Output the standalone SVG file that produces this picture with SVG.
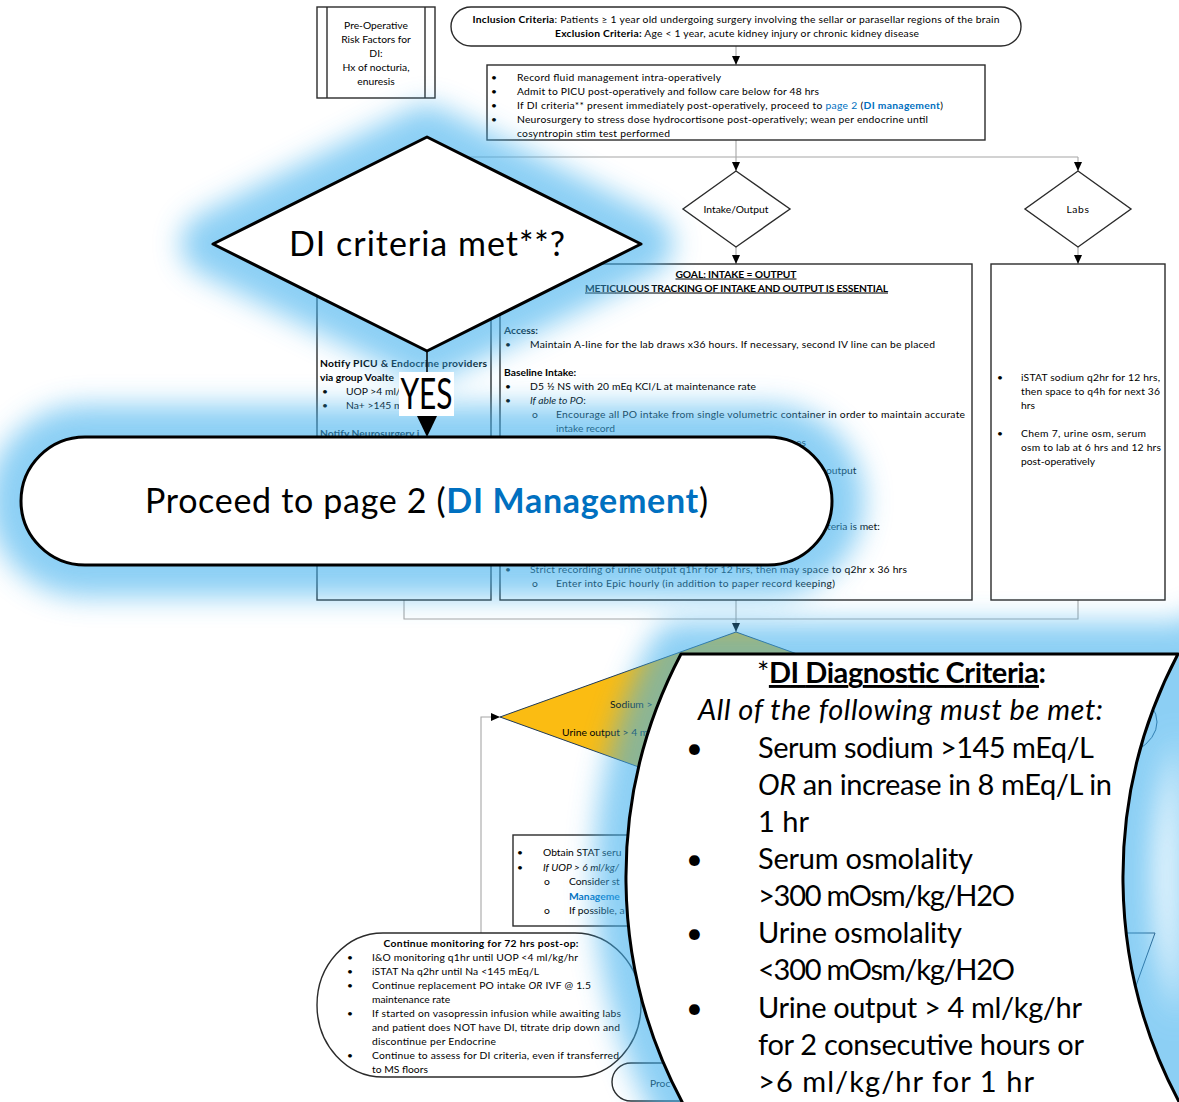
<svg xmlns="http://www.w3.org/2000/svg" xmlns:xlink="http://www.w3.org/1999/xlink" width="1179" height="1102" viewBox="0 0 1179 1102">
  <style>
    .t { font-family: Lato, "Liberation Sans", sans-serif; font-size: 10.3px; fill: #000; }
    .c { text-anchor: middle; }
    .b { font-weight: bold; }
    .i { font-style: italic; }
    .u { text-decoration: underline; }
    .lnk { fill: #0070c0; }
    .box { fill: #fff; stroke: #2b2b2b; stroke-width: 1.4; }
    .thin { fill: none; stroke: #1f3a5a; stroke-width: 1; }
    .con { fill: none; stroke: #a6a6a6; stroke-width: 1.1; }
    .glow { fill: #3fb0ee; stroke: #3fb0ee; stroke-width: 64; stroke-linejoin: round; }
    .over { fill: #fff; stroke: #000; stroke-width: 3; stroke-linejoin: round; }
    .big { font-size: 34px; }
    .yes { font-size: 42px; }
    .crit { font-size: 29px; }
  </style>
  <defs>
    <marker id="arr" markerUnits="userSpaceOnUse" markerWidth="9" markerHeight="8" refX="9" refY="4" orient="auto" viewBox="0 0 9 8">
      <path d="M0,0 L9,4 L0,8 Z" fill="#000"/>
    </marker>
    <filter id="soft" filterUnits="userSpaceOnUse" x="-100" y="-100" width="1400" height="1320">
      <feGaussianBlur stdDeviation="14"/>
    </filter>
    <!-- overlay outlines, shared by the halo and the white shapes -->
    <path id="decision" d="M213,244 L427,137 L641,244 L427,351 Z"/>
    <rect id="pageTwo" x="21" y="437" width="811" height="128" rx="64" ry="64"/>
    <path id="criteria" d="M681,654 H1178 A479,479 0 0 0 1183.5,1110 H686.5 A479,479 0 0 1 681,654 Z"/>
  </defs>

  <rect width="1179" height="1102" fill="#fff"/>

  <!-- ===== connectors ===== -->
  <g id="connectors">
    <line class="con" x1="736" y1="46" x2="736" y2="65" marker-end="url(#arr)"/>
    <polyline class="con" points="736,140 736,157"/>
    <polyline class="con" points="404,157 1078,157"/>
    <line class="con" x1="736" y1="157" x2="736" y2="171" marker-end="url(#arr)"/>
    <line class="con" x1="1078" y1="157" x2="1078" y2="171" marker-end="url(#arr)"/>
    <line class="con" x1="404" y1="157" x2="404" y2="264" marker-end="url(#arr)"/>
    <line class="con" x1="736" y1="247" x2="736" y2="264" marker-end="url(#arr)"/>
    <line class="con" x1="1078" y1="247" x2="1078" y2="264" marker-end="url(#arr)"/>
    <polyline class="con" points="404,600 404,619 1078,619 1078,600"/>
    <line class="con" x1="736" y1="600" x2="736" y2="632" marker-end="url(#arr)"/>
    <polyline class="con" points="481,933 481,717 500,717" marker-end="url(#arr)"/>
  </g>

  <!-- ===== flowchart nodes ===== -->
  <g id="preop-risk">
    <rect class="box" x="317" y="7" width="118" height="91"/>
    <line class="box" x1="327" y1="7" x2="327" y2="98"/>
    <line class="box" x1="425" y1="7" x2="425" y2="98"/>
    <text class="t c" x="376" y="28.5">Pre-Operative</text>
    <text class="t c" x="376" y="42.5">Risk Factors for</text>
    <text class="t c" x="376" y="56.5">DI:</text>
    <text class="t c" x="376" y="70.5">Hx of nocturia,</text>
    <text class="t c" x="376" y="84.5">enuresis</text>
  </g>

  <g id="inclusion">
    <rect class="box" x="451" y="7" width="570" height="39" rx="20" ry="20"/>
    <text class="t c" x="736" y="23" textLength="527" lengthAdjust="spacing"><tspan class="b">Inclusion Criteria</tspan>: Patients ≥ 1 year old undergoing surgery involving the sellar or parasellar regions of the brain</text>
    <text class="t c" x="737" y="37" textLength="364" lengthAdjust="spacing"><tspan class="b">Exclusion Criteria:</tspan> Age &lt; 1 year, acute kidney injury or chronic kidney disease</text>
  </g>

  <g id="postop-orders">
    <rect class="box" x="487" y="65" width="498" height="75"/>
    <text class="t" x="491" y="80.5">•</text>
    <text class="t" x="517" y="80.5" textLength="204" lengthAdjust="spacing">Record fluid management intra-operatively</text>
    <text class="t" x="491" y="94.5">•</text>
    <text class="t" x="517" y="94.5" textLength="302" lengthAdjust="spacing">Admit to PICU post-operatively and follow care below for 48 hrs</text>
    <text class="t" x="491" y="108.5">•</text>
    <text class="t" x="517" y="108.5" textLength="426" lengthAdjust="spacing">If DI criteria** present immediately post-operatively, proceed to <tspan class="lnk">page 2</tspan> (<tspan class="lnk b">DI management</tspan>)</text>
    <text class="t" x="491" y="122.5">•</text>
    <text class="t" x="517" y="122.5" textLength="411" lengthAdjust="spacing">Neurosurgery to stress dose hydrocortisone post-operatively; wean per endocrine until</text>
    <text class="t" x="517" y="136.5" textLength="153" lengthAdjust="spacing">cosyntropin stim test performed</text>
  </g>

  <g id="intake-output-decision">
    <polygon class="box" points="736,171 790,209 736,247 683,209"/>
    <text class="t c" x="736" y="212.5">Intake/Output</text>
  </g>

  <g id="labs-decision">
    <polygon class="box" points="1078,171 1131,209 1078,247 1025,209"/>
    <text class="t c" x="1078" y="212.5" letter-spacing="0.6">Labs</text>
  </g>

  <g id="notify-box">
    <rect class="box" x="317" y="264" width="174" height="336"/>
    <text class="t b" x="320" y="366.5" textLength="167" lengthAdjust="spacing">Notify PICU &amp; Endocrine providers</text>
    <text class="t b" x="320" y="380.5">via group Voalte</text>
    <text class="t" x="322" y="394.5">•</text>
    <text class="t" x="346" y="394.5">UOP &gt;4 ml/</text>
    <text class="t" x="322" y="408.5">•</text>
    <text class="t" x="346" y="408.5">Na+ &gt;145 m</text>
    <text class="t b" x="320" y="436.5">Notify Neurosurgery i</text>
  </g>

  <g id="intake-box">
    <rect class="box" x="500" y="264" width="472" height="336"/>
    <text class="t c b u" x="736" y="277.5" textLength="121" lengthAdjust="spacing">GOAL: INTAKE = OUTPUT</text>
    <text class="t c b u" x="736.5" y="291.5" textLength="303" lengthAdjust="spacing">METICULOUS TRACKING OF INTAKE AND OUTPUT IS ESSENTIAL</text>
    <text class="t b" x="504" y="333.5">Access:</text>
    <text class="t" x="505" y="347.5">•</text>
    <text class="t" x="530" y="347.5" textLength="405" lengthAdjust="spacing">Maintain A-line for the lab draws x36 hours. If necessary, second IV line can be placed</text>
    <text class="t b" x="504" y="375.5">Baseline Intake:</text>
    <text class="t" x="505" y="389.5">•</text>
    <text class="t" x="530" y="389.5" textLength="226" lengthAdjust="spacing">D5 ½ NS with 20 mEq KCl/L at maintenance rate</text>
    <text class="t" x="505" y="403.5">•</text>
    <text class="t" x="530" y="403.5"><tspan class="i">If able to PO</tspan>:</text>
    <text class="t" x="532" y="417.5">o</text>
    <text class="t" x="556" y="417.5" textLength="409" lengthAdjust="spacing">Encourage all PO intake from single volumetric container in order to maintain accurate</text>
    <text class="t" x="556" y="431.5">intake record</text>
    <text class="t" x="796" y="445.5">es</text>
    <text class="t" x="826" y="473.5">output</text>
    <text class="t" x="827" y="529.5">teria is met:</text>
    <text class="t" x="505" y="572.5">•</text>
    <text class="t" x="530" y="572.5" textLength="377" lengthAdjust="spacing">Strict recording of urine output q1hr for 12 hrs, then may space to q2hr x 36 hrs</text>
    <text class="t" x="532" y="586.5">o</text>
    <text class="t" x="556" y="586.5" textLength="279" lengthAdjust="spacing">Enter into Epic hourly (in addition to paper record keeping)</text>
  </g>

  <g id="labs-box">
    <rect class="box" x="991" y="264" width="174" height="336"/>
    <text class="t" x="997" y="380.5">•</text>
    <text class="t" x="1021" y="380.5" textLength="139" lengthAdjust="spacing">iSTAT sodium q2hr for 12 hrs,</text>
    <text class="t" x="1021" y="394.5" textLength="139" lengthAdjust="spacing">then space to q4h for next 36</text>
    <text class="t" x="1021" y="408.5">hrs</text>
    <text class="t" x="997" y="436.5">•</text>
    <text class="t" x="1021" y="436.5" textLength="125" lengthAdjust="spacing">Chem 7, urine osm, serum</text>
    <text class="t" x="1021" y="450.5" textLength="140" lengthAdjust="spacing">osm to lab at 6 hrs and 12 hrs</text>
    <text class="t" x="1021" y="464.5">post-operatively</text>
  </g>

  <g id="criteria-check">
    <polygon points="736,632 972,717 736,802 500,717" fill="#fbbc12" stroke="#1f3a5a" stroke-width="1"/>
    <text class="t" x="610" y="707.5" fill="#222">Sodium &gt;</text>
    <text class="t" x="562" y="735.5" fill="#222">Urine output &gt; 4 m</text>
  </g>

  <g id="right-node-a">
    <ellipse class="thin" cx="1090" cy="722" rx="67" ry="40"/>
  </g>
  <g id="right-node-b">
    <polygon class="thin" points="760,933 1155,933 1120,1030 795,1030"/>
  </g>

  <g id="stat-labs-box">
    <rect class="box" x="513" y="835" width="400" height="91"/>
    <text class="t" x="517" y="856">•</text>
    <text class="t" x="543" y="856">Obtain STAT seru</text>
    <text class="t" x="517" y="870.5">•</text>
    <text class="t i" x="543" y="870.5">If UOP &gt; 6 ml/kg/</text>
    <text class="t" x="544" y="885">o</text>
    <text class="t" x="569" y="885">Consider st</text>
    <text class="t b lnk" x="569" y="899.5">Manageme</text>
    <text class="t" x="544" y="913.5">o</text>
    <text class="t" x="569" y="913.5">If possible, a</text>
  </g>

  <g id="continue-monitoring">
    <rect class="box" x="317" y="933" width="324" height="144" rx="66" ry="72"/>
    <text class="t c b" x="481" y="946.5" textLength="195" lengthAdjust="spacing">Continue monitoring for 72 hrs post-op:</text>
    <text class="t" x="347" y="960.5">•</text>
    <text class="t" x="372" y="960.5" textLength="206" lengthAdjust="spacing">I&amp;O monitoring q1hr until UOP &lt;4 ml/kg/hr</text>
    <text class="t" x="347" y="974.5">•</text>
    <text class="t" x="372" y="974.5" textLength="167" lengthAdjust="spacing">iSTAT Na q2hr until Na &lt;145 mEq/L</text>
    <text class="t" x="347" y="988.5">•</text>
    <text class="t" x="372" y="988.5" textLength="219" lengthAdjust="spacing">Continue replacement PO intake <tspan class="i">OR</tspan> IVF @ 1.5</text>
    <text class="t" x="372" y="1002.5">maintenance rate</text>
    <text class="t" x="347" y="1016.5">•</text>
    <text class="t" x="372" y="1016.5" textLength="249" lengthAdjust="spacing">If started on vasopressin infusion while awaiting labs</text>
    <text class="t" x="372" y="1030.5" textLength="248" lengthAdjust="spacing">and patient does NOT have DI, titrate drip down and</text>
    <text class="t" x="372" y="1044.5" textLength="124" lengthAdjust="spacing">discontinue per Endocrine</text>
    <text class="t" x="347" y="1058.5">•</text>
    <text class="t" x="372" y="1058.5" textLength="247" lengthAdjust="spacing">Continue to assess for DI criteria, even if transferred</text>
    <text class="t" x="372" y="1072.5">to MS floors</text>
  </g>

  <g id="proceed-small">
    <rect class="box" x="612" y="1063" width="300" height="38" rx="19" ry="19"/>
    <text class="t" x="650" y="1086.5" fill="#333">Proc</text>
  </g>

  <!-- ===== highlighted callouts with blue halo ===== -->
  <g id="halo" filter="url(#soft)" opacity="0.6">
    <use xlink:href="#decision" class="glow"/>
    <use xlink:href="#pageTwo" class="glow"/>
    <use xlink:href="#criteria" class="glow"/>
    <rect class="glow" x="1210" y="640" width="40" height="480"/>
  </g>

  <g id="di-decision">
    <use xlink:href="#decision" class="over"/>
    <text class="t big c" x="427" y="256" textLength="276" lengthAdjust="spacing">DI criteria met**?</text>
  </g>

  <g id="yes-link">
    <line x1="427" y1="351" x2="427" y2="420" stroke="#000" stroke-width="1.5"/>
    <rect x="399" y="372" width="55" height="44" fill="#fff"/>
    <text class="t yes c" x="426.5" y="409" textLength="52" lengthAdjust="spacingAndGlyphs">YES</text>
    <polygon points="417,416 437,416 427,437" fill="#000"/>
  </g>

  <g id="page-two">
    <use xlink:href="#pageTwo" class="over"/>
    <text class="t big" x="145" y="513" textLength="563" lengthAdjust="spacing">Proceed to page 2 (<tspan class="b lnk">DI Management</tspan>)</text>
  </g>

  <g id="di-criteria">
    <use xlink:href="#criteria" class="over"/>
    <text class="t crit" x="757" y="683" textLength="289" lengthAdjust="spacing">*<tspan class="b u">DI Diagnostic Criteria</tspan><tspan class="b">:</tspan></text>
    <text class="t crit i" x="698" y="720" textLength="405" lengthAdjust="spacing">All of the following must be met:</text>
    <text class="t crit" x="686" y="758">•</text>
    <text class="t crit" x="758" y="758" textLength="336" lengthAdjust="spacing">Serum sodium &gt;145 mEq/L</text>
    <text class="t crit" x="758" y="795" textLength="354" lengthAdjust="spacing"><tspan class="i">OR</tspan> an increase in 8 mEq/L in</text>
    <text class="t crit" x="758" y="832">1 hr</text>
    <text class="t crit" x="686" y="869">•</text>
    <text class="t crit" x="758" y="869" textLength="215" lengthAdjust="spacing">Serum osmolality</text>
    <text class="t crit" x="758" y="906" textLength="257" lengthAdjust="spacing">&gt;300 mOsm/kg/H2O</text>
    <text class="t crit" x="686" y="943">•</text>
    <text class="t crit" x="758" y="943" textLength="204" lengthAdjust="spacing">Urine osmolality</text>
    <text class="t crit" x="758" y="980" textLength="257" lengthAdjust="spacing">&lt;300 mOsm/kg/H2O</text>
    <text class="t crit" x="686" y="1018">•</text>
    <text class="t crit" x="758" y="1018" textLength="324" lengthAdjust="spacing">Urine output &gt; 4 ml/kg/hr</text>
    <text class="t crit" x="758" y="1055" textLength="326" lengthAdjust="spacing">for 2 consecutive hours or</text>
    <text class="t crit" x="758" y="1092" textLength="276" lengthAdjust="spacing">&gt;6 ml/kg/hr for 1 hr</text>
  </g>
</svg>
